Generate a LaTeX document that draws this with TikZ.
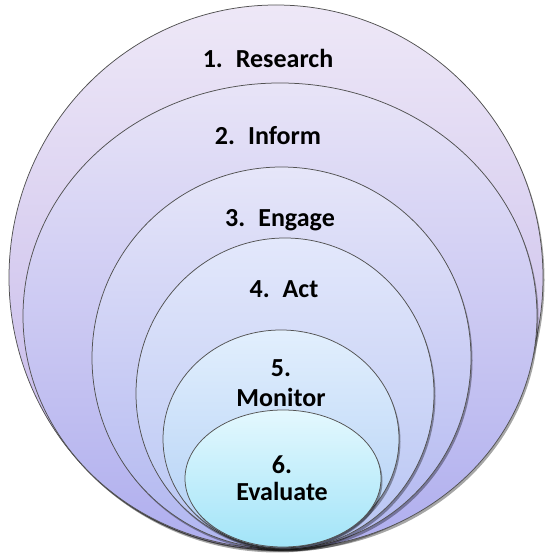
\documentclass[tikz,border=0pt]{standalone}
\usepackage{fontspec}
\setmainfont{Carlito}
\usetikzlibrary{shadows}
\begin{document}
\begin{tikzpicture}[x=1pt,y=1pt,
  ring/.style={draw=black!68, line width=0.75pt,
    drop shadow={shadow xshift=1.5pt, shadow yshift=-2.5pt, opacity=0.35, fill=black}},
  lbl/.style={font=\fontsize{26}{29}\selectfont\bfseries, text=black, align=center, anchor=base, inner sep=0pt}]
\useasboundingbox (0,0) rectangle (546,554);
\definecolor{aT}{HTML}{EEE8F7}\definecolor{aB}{HTML}{BEB0E8}
\definecolor{bT}{HTML}{E8E4F7}\definecolor{bB}{HTML}{AFAEEE}
\definecolor{cT}{HTML}{E6E6F9}\definecolor{cB}{HTML}{B0B6F0}
\definecolor{dT}{HTML}{E3E8FB}\definecolor{dB}{HTML}{B7C4F3}
\definecolor{eT}{HTML}{E2EFFD}\definecolor{eB}{HTML}{B0CFF5}
\definecolor{fT}{HTML}{E4F8FE}\definecolor{fB}{HTML}{A2E4F8}
\path[ring, top color=aT, bottom color=aB] (276,276.5) ellipse [x radius=267pt, y radius=272.5pt];
\path[ring, top color=bT, bottom color=bB] (280,238) ellipse [x radius=257pt, y radius=233pt];
\path[ring, top color=cT, bottom color=cB] (281.5,196) ellipse [x radius=189.5pt, y radius=191pt];
\path[ring, top color=dT, bottom color=dB] (285,160.5) ellipse [x radius=149pt, y radius=155.5pt];
\path[ring, top color=eT, bottom color=eB] (281,115) ellipse [x radius=118pt, y radius=109pt];
\path[ring, top color=fT, bottom color=fB] (283,75.5) ellipse [x radius=98pt, y radius=68.5pt];
\node[lbl] (t1) at (268,486) {1.\hspace{0.5em}Research};
\node[lbl] (t2) at (268,409) {2.\hspace{0.5em}Inform};
\node[lbl] (t3) at (280,327) {3.\hspace{0.5em}Engage};
\node[lbl] (t4) at (284,256) {4.\hspace{0.5em}Act};
\node[lbl] (t5) at (281,147) {5.\\[1pt]Monitor};
\node[lbl] (t6) at (282,53) {6.\\[-2pt]Evaluate};
\end{tikzpicture}
\end{document}
